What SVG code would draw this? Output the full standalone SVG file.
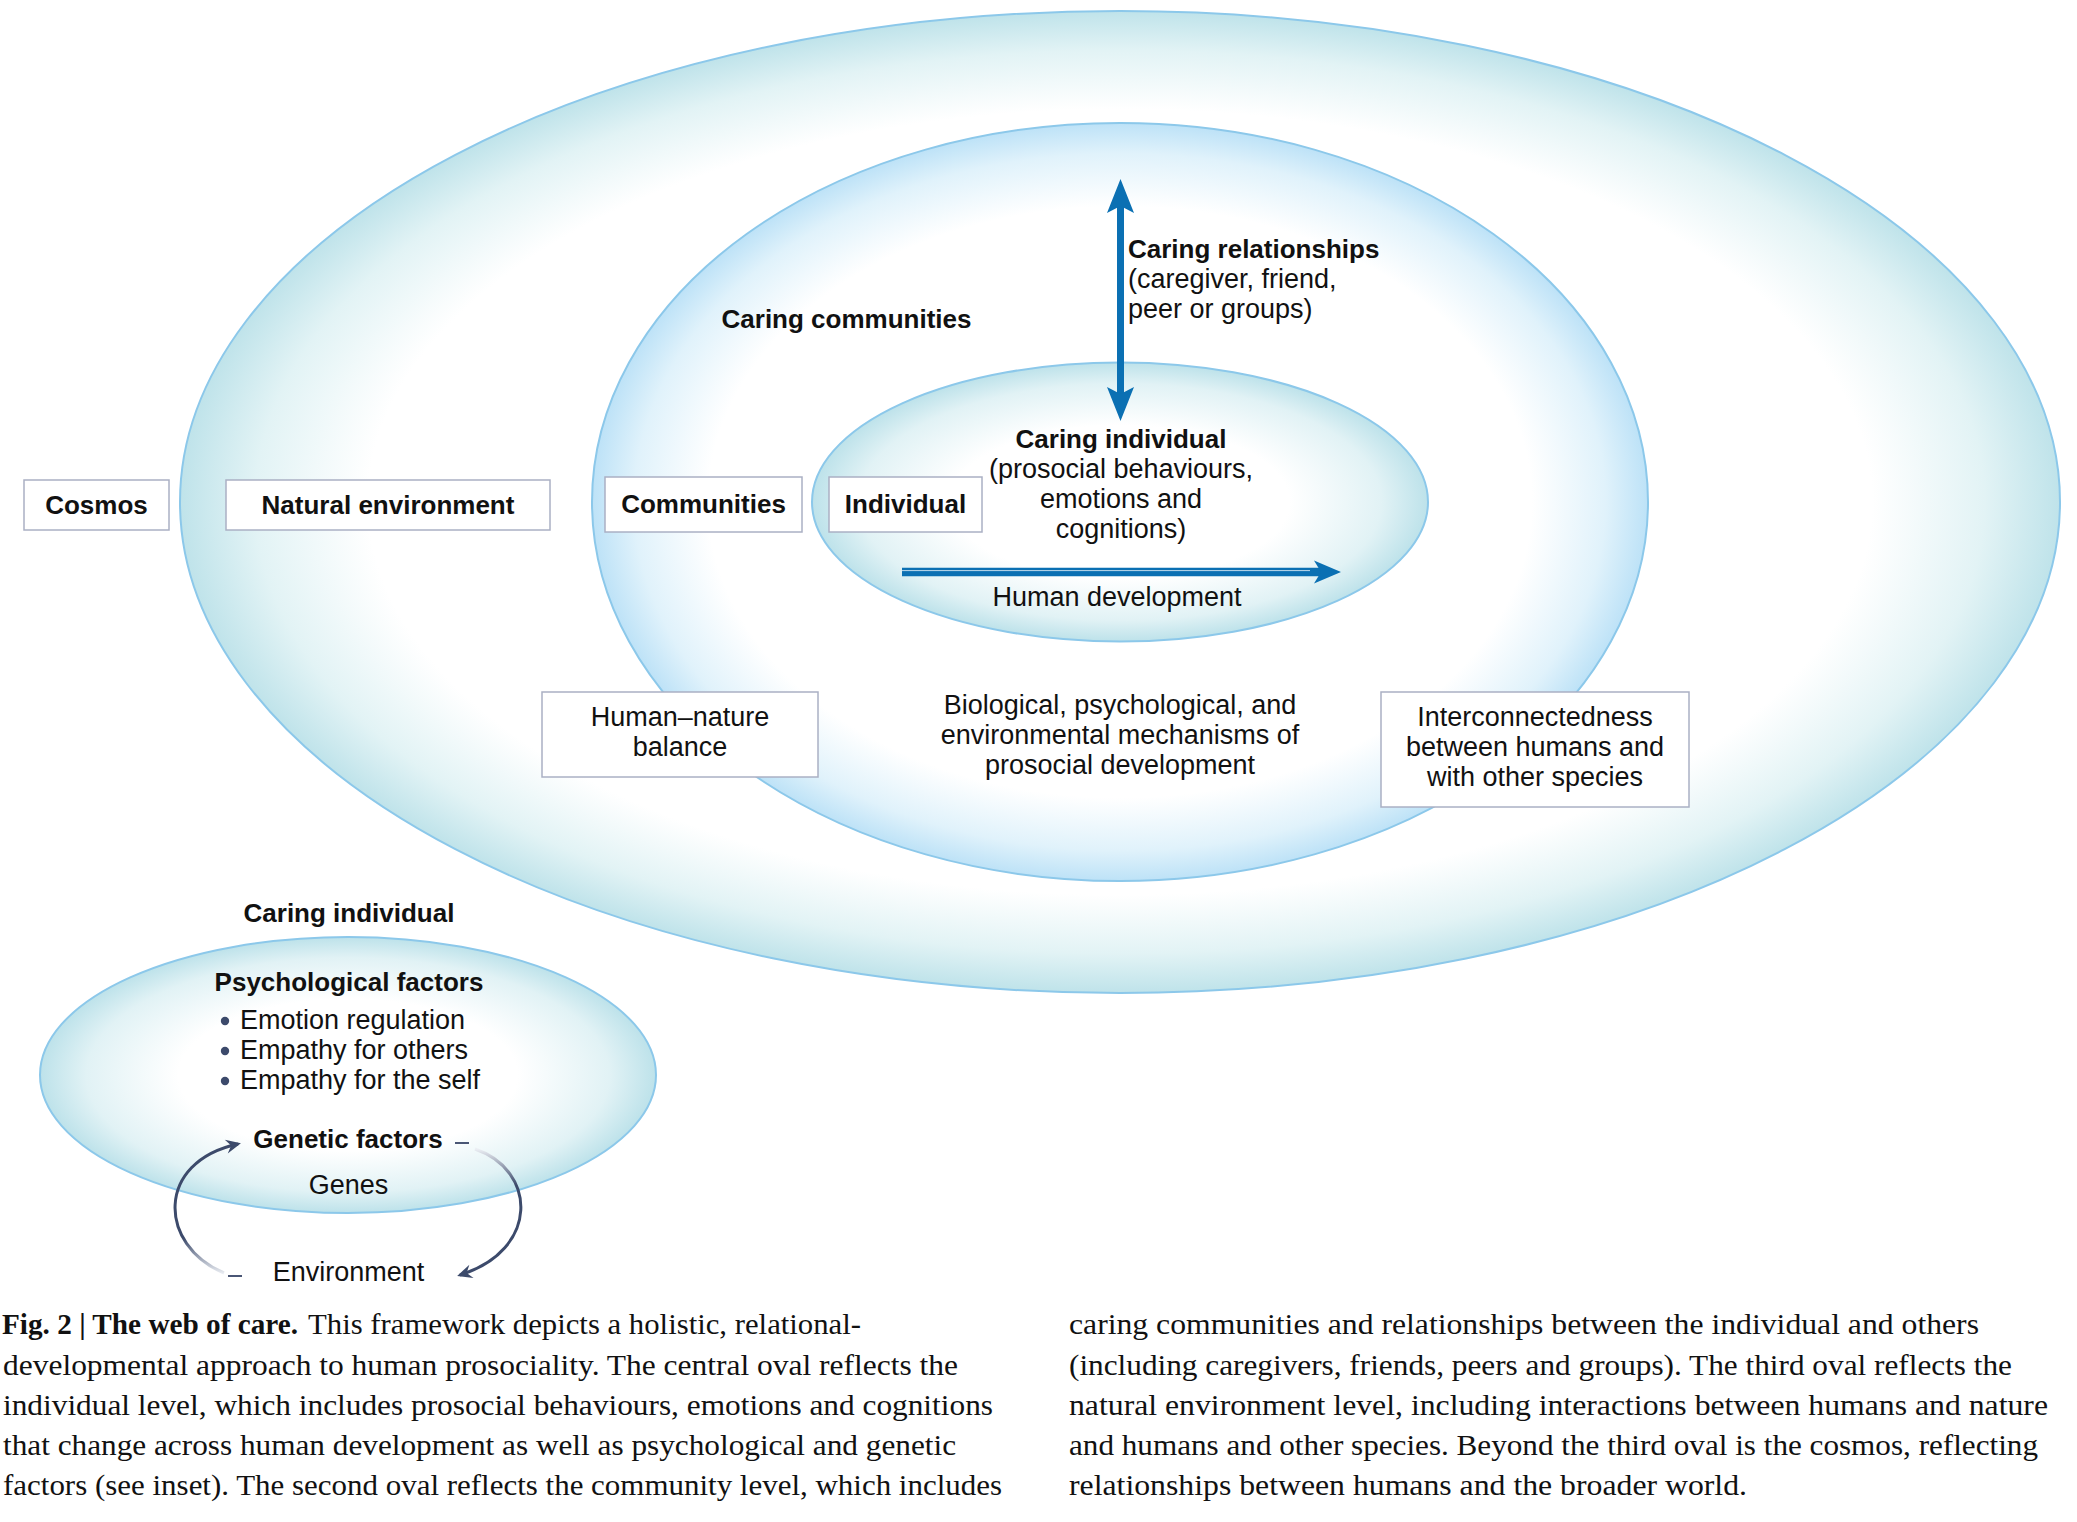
<svg xmlns="http://www.w3.org/2000/svg" width="2077" height="1522" viewBox="0 0 2077 1522">
<style>
.b{font-family:"Liberation Sans",Arial,sans-serif;font-weight:bold;font-size:26px;fill:#111}
.r{font-family:"Liberation Sans",Arial,sans-serif;font-size:27px;fill:#111}
.c{text-anchor:middle}
.box{fill:#fff;stroke:#aab0c4;stroke-width:1.5}
.ov{stroke:#8cc8ea;stroke-width:2}
.cap{font-family:"Liberation Serif","Times New Roman",serif;font-size:29px;fill:#111}
.capb{font-family:"Liberation Serif","Times New Roman",serif;font-size:29px;font-weight:bold;fill:#111}
.blue{stroke:#0b70b3;fill:none}
.dash{stroke:#4a5675;stroke-width:2}
</style>
<defs>
<radialGradient id="gOuter" cx="0.5" cy="0.5" r="0.5">
<stop offset="0" stop-color="#fff"/><stop offset="0.8" stop-color="#fff"/><stop offset="0.92" stop-color="#e2f3f5"/><stop offset="1" stop-color="#bfe3ea"/>
</radialGradient>
<radialGradient id="gMid" cx="0.5" cy="0.5" r="0.5">
<stop offset="0" stop-color="#fff"/><stop offset="0.78" stop-color="#fff"/><stop offset="0.92" stop-color="#e0f2fb"/><stop offset="1" stop-color="#bde2f7"/>
</radialGradient>
<radialGradient id="gIn" cx="0.5" cy="0.5" r="0.5">
<stop offset="0" stop-color="#fff"/><stop offset="0.55" stop-color="#fff"/><stop offset="0.85" stop-color="#e1f2f5"/><stop offset="1" stop-color="#bde2ea"/>
</radialGradient>
<linearGradient id="gArcL" gradientUnits="userSpaceOnUse" x1="0" y1="1274" x2="0" y2="1238">
<stop offset="0" stop-color="#eceff4"/><stop offset="1" stop-color="#3c4a6b"/>
</linearGradient>
<linearGradient id="gArcR" gradientUnits="userSpaceOnUse" x1="0" y1="1149" x2="0" y2="1185">
<stop offset="0" stop-color="#eceff4"/><stop offset="1" stop-color="#3c4a6b"/>
</linearGradient>
<marker id="mV" markerUnits="userSpaceOnUse" viewBox="-20 -20 50 40" refX="0" refY="0" markerWidth="50" markerHeight="40" orient="auto-start-reverse">
<path d="M21,0 L-13,-13.5 L-6,0 L-13,13.5 Z" fill="#0b70b3"/>
</marker>
<marker id="mH" markerUnits="userSpaceOnUse" viewBox="-20 -20 50 40" refX="0" refY="0" markerWidth="50" markerHeight="40" orient="auto">
<path d="M20,0 L-7,-11.5 L0,0 L-7,11.5 Z" fill="#0b70b3"/>
</marker>
<marker id="mA" markerUnits="userSpaceOnUse" viewBox="-20 -12 30 24" refX="0" refY="0" markerWidth="30" markerHeight="24" orient="auto">
<path d="M3,0 L-12,-7 L-7,0 L-12,7 Z" fill="#3c4a6b"/>
</marker>
</defs>
<rect width="2077" height="1522" fill="#fff"/>

<g id="oval-natural-environment">
<ellipse class="ov" cx="1120" cy="502" rx="940" ry="491" fill="url(#gOuter)"/>
</g>
<g id="oval-communities">
<ellipse class="ov" cx="1120" cy="502" rx="528" ry="379" fill="url(#gMid)"/>
<text class="b c" x="846.5" y="328">Caring communities</text>
</g>
<g id="oval-individual">
<ellipse class="ov" cx="1120" cy="502" rx="308" ry="139.5" fill="url(#gIn)"/>
<text class="b c" x="1121" y="448">Caring individual</text>
<text class="r c" x="1121" y="478">(prosocial behaviours,</text>
<text class="r c" x="1121" y="508">emotions and</text>
<text class="r c" x="1121" y="538">cognitions)</text>
<text class="r c" x="1117" y="606">Human development</text>
</g>

<g id="label-caring-relationships">
<text class="b" x="1128" y="258">Caring relationships</text>
<text class="r" x="1128" y="288">(caregiver, friend,</text>
<text class="r" x="1128" y="318">peer or groups)</text>
</g>
<g id="label-mechanisms">
<text class="r c" x="1120" y="714">Biological, psychological, and</text>
<text class="r c" x="1120" y="744">environmental mechanisms of</text>
<text class="r c" x="1120" y="774">prosocial development</text>
</g>

<g id="box-cosmos">
<rect class="box" x="24" y="480" width="145" height="50"/>
<text class="b c" x="96.5" y="514">Cosmos</text>
</g>
<g id="box-natural-environment">
<rect class="box" x="226" y="480" width="324" height="50"/>
<text class="b c" x="388" y="514">Natural environment</text>
</g>
<g id="box-communities">
<rect class="box" x="605" y="477" width="197" height="55"/>
<text class="b c" x="703.5" y="513">Communities</text>
</g>
<g id="box-individual">
<rect class="box" x="829" y="477" width="153" height="55"/>
<text class="b c" x="905.5" y="513">Individual</text>
</g>
<g id="box-human-nature">
<rect class="box" x="542" y="692" width="276" height="85"/>
<text class="r c" x="680" y="726">Human–nature</text>
<text class="r c" x="680" y="756">balance</text>
</g>
<g id="box-interconnectedness">
<rect class="box" x="1381" y="692" width="308" height="115"/>
<text class="r c" x="1535" y="726">Interconnectedness</text>
<text class="r c" x="1535" y="756">between humans and</text>
<text class="r c" x="1535" y="786">with other species</text>
</g>

<g id="inset-caring-individual">
<text class="b c" x="349" y="922">Caring individual</text>
<ellipse class="ov" cx="348" cy="1075" rx="308" ry="138" fill="url(#gIn)"/>
<text class="b c" x="349" y="991">Psychological factors</text>
<circle cx="225" cy="1021" r="4.2" fill="#3c4a6b"/>
<circle cx="225" cy="1051" r="4.2" fill="#3c4a6b"/>
<circle cx="225" cy="1081" r="4.2" fill="#3c4a6b"/>
<text class="r" x="240" y="1029">Emotion regulation</text>
<text class="r" x="240" y="1059">Empathy for others</text>
<text class="r" x="240" y="1089">Empathy for the self</text>
<text class="b c" x="348" y="1148">Genetic factors</text>
<text class="r c" x="348.5" y="1194">Genes</text>
<text class="r c" x="348.5" y="1281">Environment</text>
</g>

<g id="connectors">
<line class="blue" x1="1120.5" y1="200" x2="1120.5" y2="400" stroke-width="7" marker-start="url(#mV)" marker-end="url(#mV)"/>
<line class="blue" x1="902" y1="572" x2="1321" y2="572" stroke-width="8.5" marker-end="url(#mH)"/>
<line x1="902" y1="570.6" x2="1310" y2="570.6" stroke="#d4e6f2" stroke-width="0.9"/>
<path d="M224,1273 C158,1245 155,1162 238,1144" fill="none" stroke="url(#gArcL)" stroke-width="3" marker-end="url(#mA)"/>
<path d="M475,1149 C537,1170 540,1250 460,1275" fill="none" stroke="url(#gArcR)" stroke-width="3" marker-end="url(#mA)"/>
<line class="dash" x1="455" y1="1143" x2="469" y2="1143"/>
<line class="dash" x1="228" y1="1276" x2="242" y2="1276"/>
</g>

<g id="caption">
<text class="capb" x="2" y="1334" textLength="296" lengthAdjust="spacingAndGlyphs">Fig. 2 | The web of care.</text>
<text class="cap" x="308" y="1334" textLength="553" lengthAdjust="spacingAndGlyphs">This framework depicts a holistic, relational-</text>
<text class="cap" x="3" y="1374.5" textLength="955" lengthAdjust="spacingAndGlyphs">developmental approach to human prosociality. The central oval reflects the</text>
<text class="cap" x="3" y="1415" textLength="990" lengthAdjust="spacingAndGlyphs">individual level, which includes prosocial behaviours, emotions and cognitions</text>
<text class="cap" x="3" y="1455" textLength="953" lengthAdjust="spacingAndGlyphs">that change across human development as well as psychological and genetic</text>
<text class="cap" x="3" y="1495" textLength="999" lengthAdjust="spacingAndGlyphs">factors (see inset). The second oval reflects the community level, which includes</text>
<text class="cap" x="1069" y="1334" textLength="910" lengthAdjust="spacingAndGlyphs">caring communities and relationships between the individual and others</text>
<text class="cap" x="1069" y="1374.5" textLength="943" lengthAdjust="spacingAndGlyphs">(including caregivers, friends, peers and groups). The third oval reflects the</text>
<text class="cap" x="1069" y="1415" textLength="979" lengthAdjust="spacingAndGlyphs">natural environment level, including interactions between humans and nature</text>
<text class="cap" x="1069" y="1455" textLength="969" lengthAdjust="spacingAndGlyphs">and humans and other species. Beyond the third oval is the cosmos, reflecting</text>
<text class="cap" x="1069" y="1495" textLength="678" lengthAdjust="spacingAndGlyphs">relationships between humans and the broader world.</text>
</g>
</svg>
